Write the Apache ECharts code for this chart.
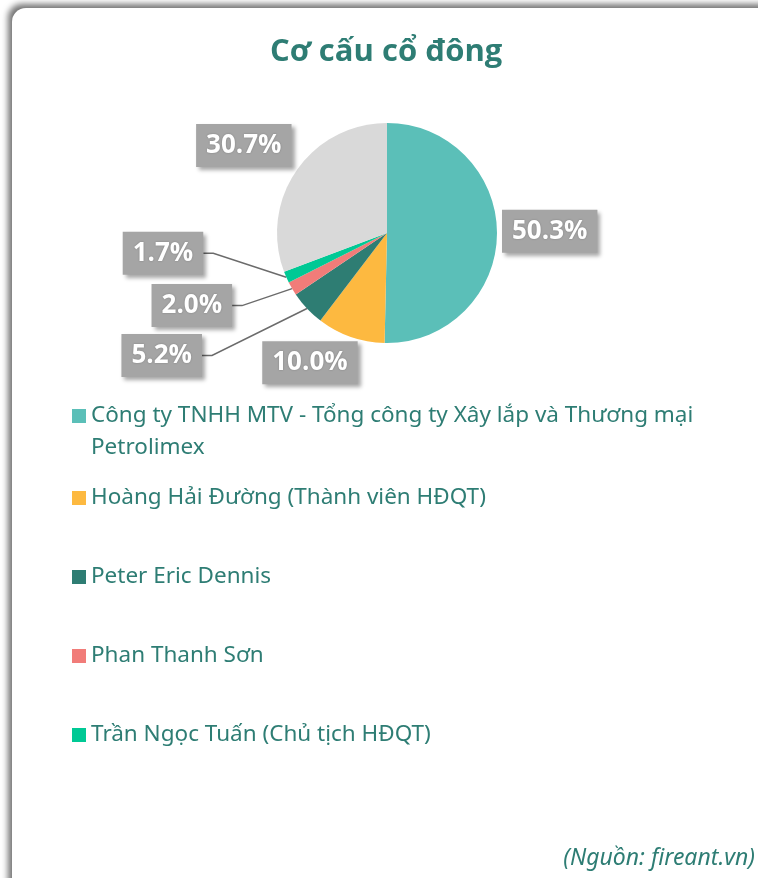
<!DOCTYPE html>
<html lang="vi">
<head>
    <meta charset="utf-8">
    <title>Cơ cấu cổ đông</title>
    <style type="text/css">
        html, body { margin: 0; padding: 0; background: #fff; }
        .page { position: relative; width: 758px; height: 878px; overflow: hidden; }
        .card { position: absolute; left: 12px; top: 8px; width: 800px; height: 920px; border-radius: 14px; background: #fff; box-shadow: -4px -4px 6px rgba(0, 0, 0, .55); }
        #chart { position: absolute; left: 0; top: 0; width: 758px; height: 878px; }
    </style>
</head>
<body>
<div class="page">
    <div class="card"></div>
    <div id="chart"></div>
</div>

<script src="https://cdn.jsdelivr.net/npm/echarts@6/dist/echarts.min.js"></script>
<script>
    var titleText = 'Cơ cấu cổ đông';
    var sourceText = '(Nguồn: fireant.vn)';

    // cổ đông, theo chiều kim đồng hồ từ đỉnh
    var names = [
        'Công ty TNHH MTV - Tổng công ty Xây lắp và Thương mại Petrolimex',
        'Hoàng Hải Đường (Thành viên HĐQT)',
        'Peter Eric Dennis',
        'Phan Thanh Sơn',
        'Trần Ngọc Tuấn (Chủ tịch HĐQT)',
        'Khác'
    ];
    var values = [50.3, 10.0, 5.2, 2.0, 1.7, 30.7];
    var colors = ['#5bbfb8', '#fdb940', '#2e7d73', '#f17c79', '#00c995', '#d9d9d9'];

    var textColor = '#2e7d74';

    // dịch nhãn so với vị trí mặc định (kiểu Excel)
    var labelShift = [[0, -3], [12, 26], [-90, 47], [-45, 17], [-68, -24], [0, -25]];

    var chart = echarts.init(document.getElementById('chart'));

    var pieData = names.map(function (n, i) {
        var small = values[i] < 6;
        return {
            name: n,
            value: values[i],
            itemStyle: {color: colors[i]},
            labelLine: small ? {show: true, length: 0, length2: 10} : {show: false, length: 0, length2: 0}
        };
    });

    var legendText = {
        fontFamily: 'Noto Sans',
        fontSize: 22.5,
        color: textColor,
        lineHeight: 32
    };

    var option = {
        animation: false,
        title: {
            text: titleText,
            left: 270,
            top: 37,
            padding: 0,
            textStyle: {
                fontFamily: 'Open Sans',
                fontSize: 31,
                fontWeight: 'bold',
                color: textColor
            }
        },
        legend: [{
            // mục 2 dòng: ô vuông nằm ngang dòng đầu
            orient: 'vertical',
            left: 72,
            top: 400,
            padding: 0,
            itemWidth: 14,
            itemHeight: 46,
            icon: 'path://M0,0L14,0L14,14L0,14Z M0,46L0.01,46Z',
            data: names.slice(0, 1),
            selectedMode: false,
            formatter: function (name) {
                return name.replace(' Petrolimex', '\nPetrolimex');
            },
            textStyle: legendText
        }, {
            orient: 'vertical',
            left: 72,
            top: 482,
            padding: 0,
            itemWidth: 14,
            itemHeight: 14,
            itemGap: 47,
            icon: 'rect',
            data: names.slice(1, 5),
            selectedMode: false,
            textStyle: legendText
        }],
        graphic: [{
            type: 'text',
            right: 3,
            bottom: 8,
            style: {
                text: sourceText,
                fontFamily: 'Noto Sans',
                fontStyle: 'italic',
                fontSize: 23,
                fill: textColor
            }
        }],
        series: [{
            type: 'pie',
            center: [387, 233],
            radius: 110,
            startAngle: 90,
            clockwise: true,
            avoidLabelOverlap: false,
            label: {
                show: true,
                position: 'outside',
                formatter: function (p) {
                    return p.value.toFixed(1) + '%';
                },
                fontFamily: 'Open Sans',
                fontSize: 26,
                fontWeight: 'bold',
                color: '#fff',
                lineHeight: 29,
                backgroundColor: '#a5a5a5',
                padding: [7, 10],
                shadowColor: 'rgba(0,0,0,0.35)',
                shadowBlur: 4,
                shadowOffsetX: 3,
                shadowOffsetY: 3,
                textShadowColor: 'rgba(0,0,0,0.25)',
                textShadowBlur: 2
            },
            labelLine: {
                lineStyle: {color: '#6b6b6b', width: 1.5}
            },
            labelLayout: function (p) {
                var s = labelShift[p.dataIndex];
                return {
                    x: p.labelRect.x + s[0],
                    y: p.labelRect.y + s[1],
                    align: 'left',
                    verticalAlign: 'top'
                };
            },
            data: pieData
        }]
    };

    chart.setOption(option);
</script>
</body>
</html>
